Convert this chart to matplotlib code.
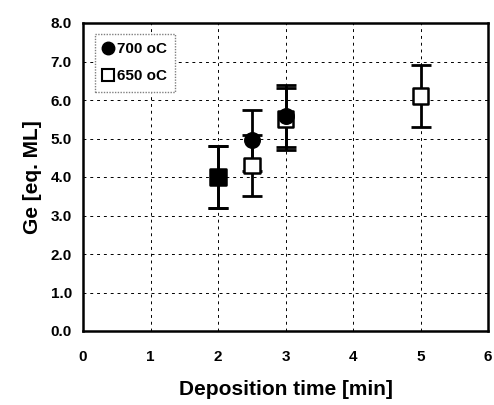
import matplotlib
matplotlib.use("Agg")
import matplotlib.pyplot as plt
from matplotlib.lines import Line2D

plt.rcParams['font.family'] = ['Liberation Sans', 'DejaVu Sans']

x700 = [2.0, 2.5, 3.0]
y700 = [4.0, 4.95, 5.58]
e700 = [0.8, 0.8, 0.8]

x650 = [2.0, 2.5, 3.0, 5.0]
y650 = [4.0, 4.3, 5.5, 6.1]
e650 = [0.8, 0.8, 0.8, 0.8]

xticks = [0, 1, 2, 3, 4, 5, 6]
yticks = [0, 1, 2, 3, 4, 5, 6, 7, 8]

# face colours of the 650 oC squares (first point overlaps the 700 oC point)
face650 = ['black', 'white', 'white', 'white']

fig = plt.figure(figsize=(4.94, 4.05), dpi=100)
ax = fig.add_axes([83/494, 74/405, 405/494, 308/405])

ax.errorbar(x650, y650, yerr=e650, fmt='none', ecolor='black', elinewidth=2,
            capsize=7, capthick=2, zorder=2)
ax.errorbar(x700, y700, yerr=e700, fmt='none', ecolor='black', elinewidth=2,
            capsize=7, capthick=2, zorder=2)
ax.scatter(x650, y650, marker='s', s=130, facecolors=face650, edgecolors='black',
           linewidths=1.8, zorder=3)
ax.scatter(x700, y700, marker='o', s=125, facecolors='black', edgecolors='black',
           zorder=4)

ax.set_xlim(0, 6)
ax.set_ylim(0, 8)
ax.set_xticks(xticks)
ax.set_yticks(yticks)
ax.set_xticklabels([str(v) for v in xticks], fontsize=11, fontweight='bold')
ax.set_yticklabels([f"{v:.1f}" for v in yticks], fontsize=11, fontweight='bold')
ax.tick_params(axis='both', length=0)
ax.tick_params(axis='x', pad=14)
ax.tick_params(axis='y', pad=8)
ax.grid(True, color='black', linestyle=(0, (3, 4)), linewidth=0.7)
ax.set_axisbelow(True)
for s in ax.spines.values():
    s.set_linewidth(1.8)

ax.set_xlabel('Deposition time [min]', fontsize=15, fontweight='bold', labelpad=11)
ax.set_ylabel('Ge [eq. ML]', fontsize=15, fontweight='bold', labelpad=6)

hh = [Line2D([], [], marker='o', ls='none', mfc='black', mec='black', ms=9),
      Line2D([], [], marker='s', ls='none', mfc='white', mec='black', mew=1.5, ms=9)]
leg = ax.legend(hh, ['700 oC', '650 oC'], loc='upper left', bbox_to_anchor=(0.01, 0.99),
                prop={'weight': 'bold', 'size': 11}, frameon=True, fancybox=False,
                handlelength=0.6, handletextpad=0.3, borderpad=0.55, labelspacing=0.85,
                edgecolor='gray', framealpha=1)
leg.get_frame().set_linestyle((0, (1, 1)))
leg.get_frame().set_linewidth(1.0)

fig.savefig('out.png', dpi=100)
